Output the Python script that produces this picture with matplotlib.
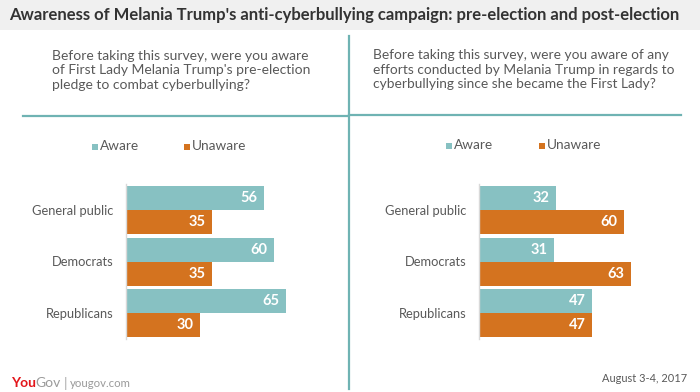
import matplotlib
matplotlib.use("Agg")
import matplotlib.pyplot as plt
from matplotlib.patches import Rectangle
from matplotlib.lines import Line2D

categories = ["General public", "Democrats", "Republicans"]
pre_aware = [56, 60, 65]
pre_unaware = [35, 35, 30]
post_aware = [32, 31, 47]
post_unaware = [60, 63, 47]
series_names = ["Aware", "Unaware"]

title = "Awareness of Melania Trump's anti-cyberbullying campaign: pre-election and post-election"
q_left = "Before taking this survey, were you aware\nof First Lady Melania Trump's pre-election\npledge to combat cyberbullying?"
q_right = "Before taking this survey, were you aware of any\nefforts conducted by Melania Trump in regards to\ncyberbullying since she became the First Lady?"
date_text = "August 3-4, 2017"

TEAL = "#87c1c2"
ORANGE = "#d4731f"
LINE = "#6fb3b3"
TXT = "#595959"
FONT = "Lato"

W, H = 700, 392
fig = plt.figure(figsize=(W / 100, H / 100), dpi=100)
fig.patch.set_facecolor("white")
renderer = fig.canvas.get_renderer()

def fx(px):
    return px / W

def fy(py):
    return 1 - py / H

def fit(t, width_px):
    bb = t.get_window_extent(renderer=renderer)
    t.set_fontsize(t.get_fontsize() * width_px / bb.width)
    return t

def right_px(t):
    return t.get_window_extent(renderer=renderer).x1

# Title bar
fig.add_artist(Rectangle((0, fy(30)), 1, 30 / H, transform=fig.transFigure,
                         facecolor="#f0f0f0", edgecolor="none", zorder=0))
fit(fig.text(fx(9), fy(15), title, fontsize=12, fontweight="bold", family=FONT,
             color="#333333", va="center", ha="left"), 669)

# Divider lines
fig.add_artist(Line2D([fx(348.5), fx(348.5)], [fy(36), fy(389)], color=LINE, lw=1.6,
                      transform=fig.transFigure))
fig.add_artist(Line2D([fx(23), fx(348)], [fy(116), fy(116)], color=LINE, lw=1.6,
                      transform=fig.transFigure))
fig.add_artist(Line2D([fx(349), fx(681)], [fy(115), fy(115)], color=LINE, lw=1.6,
                      transform=fig.transFigure))

# Questions
fit(fig.text(fx(52), fy(50), q_left, fontsize=10, family=FONT, color=TXT,
             va="top", ha="left", linespacing=1.25), 258)
fit(fig.text(fx(373), fy(49), q_right, fontsize=10, family=FONT, color=TXT,
             va="top", ha="left", linespacing=1.25), 302)

# Legends
def legend(x_aware, x_unaware, y):
    for xx, col, name in [(x_aware, TEAL, series_names[0]), (x_unaware, ORANGE, series_names[1])]:
        fig.add_artist(Rectangle((fx(xx), fy(y + 3.5)), 6 / W, 6 / H, transform=fig.transFigure,
                                 facecolor=col, edgecolor="none"))
        fig.text(fx(xx + 8), fy(y), name, fontsize=9.8, family=FONT, color=TXT,
                 va="center", ha="left")

legend(91.5, 184, 146)
legend(445.5, 539, 145)

def panel(left_px, px_per_unit, aware, unaware):
    top = 184.25
    pitch = 51.5
    height = pitch * 3
    ax = fig.add_axes([fx(left_px), fy(top + height), 100 * px_per_unit / W, height / H])
    ax.set_xlim(0, 100)
    ax.set_ylim(2.5, -0.5)
    h = 24 / pitch
    ys = list(range(len(categories)))
    ax.barh([y - h / 2 for y in ys], aware, height=h, color=TEAL, edgecolor="none")
    ax.barh([y + h / 2 for y in ys], unaware, height=h, color=ORANGE, edgecolor="none")
    for y, v in zip(ys, aware):
        ax.text(v - 2.6, y - h / 2, str(v), color="white", fontsize=10.5, fontweight="bold",
                family=FONT, ha="right", va="center")
    for y, v in zip(ys, unaware):
        ax.text(v - 2.6, y + h / 2, str(v), color="white", fontsize=10.5, fontweight="bold",
                family=FONT, ha="right", va="center")
    for s in ["top", "right", "bottom"]:
        ax.spines[s].set_visible(False)
    ax.spines["left"].set_color("#d9d9d9")
    ax.spines["left"].set_linewidth(1)
    ax.set_xticks([])
    ax.set_yticks(ys)
    ax.set_yticklabels(categories, fontsize=9.3, family=FONT, color=TXT)
    ax.tick_params(axis="y", length=0, pad=8.5)
    ax.patch.set_alpha(0)
    return ax

panel(125.5, 2.47, pre_aware, pre_unaware)
panel(478.5, 2.42, post_aware, post_unaware)

# Footer
t_you = fig.text(fx(11), fy(383), "You", fontsize=10, fontweight="bold", family=FONT,
                 color="#e3151a", va="center", ha="left")
x_gov = right_px(t_you) - 0.5
t_gov = fig.text(fx(x_gov), fy(383), "Gov", fontsize=10, family=FONT,
                 color="#9a9a9a", va="center", ha="left")
x_bar = right_px(t_gov) + 3
t_bar = fig.text(fx(x_bar), fy(383), "|", fontsize=10, family=FONT,
                 color="#aaaaaa", va="center", ha="left")
x_url = right_px(t_bar) + 3
fit(fig.text(fx(x_url), fy(383.5), "yougov.com", fontsize=8, family=FONT,
             color="#9a9a9a", va="center", ha="left"), 61)
fit(fig.text(fx(687), fy(378), date_text, fontsize=8.5, family=FONT,
             color=TXT, va="center", ha="right"), 84)

fig.savefig("out.png", dpi=100)
